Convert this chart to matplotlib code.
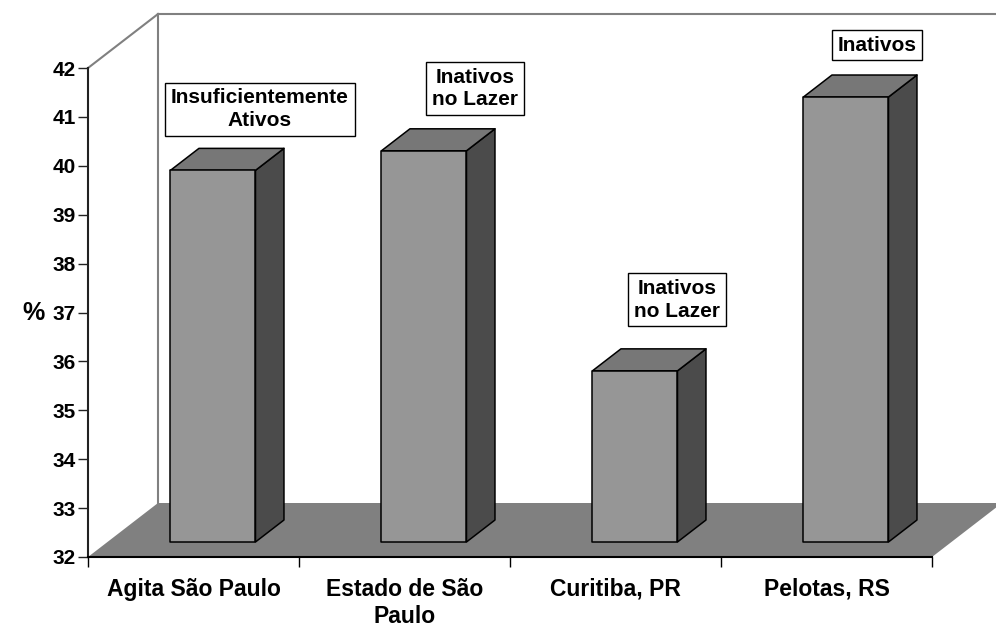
import matplotlib
matplotlib.use("Agg")
import matplotlib.pyplot as plt
from matplotlib.patches import Polygon

plt.rcParams['font.family'] = ['Liberation Sans', 'DejaVu Sans']
plt.rcParams['font.weight'] = 'bold'

# -----------------------
# Data
# -----------------------
categories = ["Agita São Paulo", "Estado de São\nPaulo", "Curitiba, PR", "Pelotas, RS"]
values = [39.6, 40.0, 35.5, 41.1]
labels = ["Insuficientemente\nAtivos", "Inativos\nno Lazer", "Inativos\nno Lazer", "Inativos"]
y_ticks = list(range(32, 43))

# -----------------------
# 3D look (oblique projection in data units)
# -----------------------
YMIN, YMAX = 32, 42
DX = 70 / 211          # full depth, in category units
DY = 54 / 48.9         # full depth, in value units
F0, F1 = 0.278, 0.685  # bar front/back as fraction of depth
BAR_W = 0.403

FRONT = "#969696"
TOP = "#777777"
SIDE = "#4b4b4b"
FLOOR = "#808080"
WALL = "#808080"

# label box centres (data coords)
label_pos = [(0.815, 41.16), (1.834, 41.58), (2.791, 37.26), (3.739, 42.47)]

fig = plt.figure(figsize=(9.96, 6.28), dpi=100)
ax = fig.add_axes([88 / 996, 71 / 628, 844 / 996, 489 / 628])
ax.set_xlim(0, len(categories))
ax.set_ylim(YMIN, YMAX)

n = len(categories)

# floor
floor = Polygon([(0, YMIN), (n, YMIN), (n + DX, YMIN + DY), (DX, YMIN + DY)],
                closed=True, fc=FLOOR, ec="none", clip_on=False, zorder=1)
ax.add_patch(floor)

# back wall outline
ax.plot([0, DX], [YMAX, YMAX + DY], color=WALL, lw=1.5, clip_on=False, zorder=1)
ax.plot([DX, DX], [YMIN + DY, YMAX + DY], color=WALL, lw=1.5, clip_on=False, zorder=1)
ax.plot([DX, n + DX + 0.2], [YMAX + DY, YMAX + DY], color=WALL, lw=1.5, clip_on=False, zorder=1)

# bars
for i, v in enumerate(values):
    x0 = i + (1 - BAR_W) / 2 + F0 * DX
    x1 = x0 + BAR_W
    y0 = YMIN + F0 * DY
    y1 = v + F0 * DY
    ddx = (F1 - F0) * DX
    ddy = (F1 - F0) * DY
    front = [(x0, y0), (x1, y0), (x1, y1), (x0, y1)]
    top = [(x0, y1), (x1, y1), (x1 + ddx, y1 + ddy), (x0 + ddx, y1 + ddy)]
    side = [(x1, y0), (x1 + ddx, y0 + ddy), (x1 + ddx, y1 + ddy), (x1, y1)]
    for pts, col in ((side, SIDE), (top, TOP), (front, FRONT)):
        ax.add_patch(Polygon(pts, closed=True, fc=col, ec="black", lw=1.1,
                             joinstyle="round", clip_on=False, zorder=3))

# data labels in boxes
for (lx, ly), txt in zip(label_pos, labels):
    ax.text(lx, ly, txt, ha="center", va="center", fontsize=15, fontweight="bold",
            linespacing=1.25, zorder=5,
            bbox=dict(boxstyle="square,pad=0.27", fc="white", ec="black", lw=1))

# axes
for s in ("top", "right"):
    ax.spines[s].set_visible(False)
ax.spines["left"].set_color("#222222")
ax.spines["bottom"].set_color("black")
ax.spines["left"].set_linewidth(1.5)
ax.spines["bottom"].set_linewidth(1.5)
ax.spines["left"].set_zorder(4)
ax.spines["bottom"].set_zorder(4)

ax.set_yticks(y_ticks)
ax.set_yticklabels([str(t) for t in y_ticks], fontsize=15, fontweight="bold")
ax.tick_params(axis="y", direction="out", length=7, width=1, pad=2, color="#222222")

ax.set_xticks(range(n + 1))
ax.set_xticklabels([])
ax.tick_params(axis="x", which="major", direction="out", length=7, width=1)
ax.set_xticks([i + 0.5 for i in range(n)], minor=True)
ax.set_xticklabels(categories, minor=True, fontsize=16.5, fontweight="bold", linespacing=1.22)
ax.tick_params(axis="x", which="minor", length=0, pad=15)

ax.set_ylabel("%", rotation=0, fontsize=18, fontweight="bold", va="center", ha="center")
ax.yaxis.set_label_coords(-0.064, 0.5)

fig.savefig("out.png", dpi=100)
